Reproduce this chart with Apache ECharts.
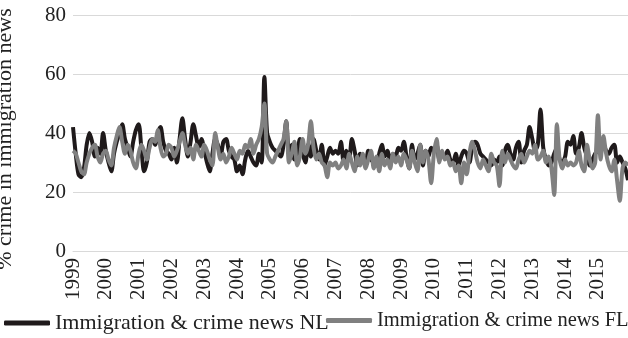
<!DOCTYPE html>
<html>
<head>
<meta charset="utf-8">
<script src="https://cdn.jsdelivr.net/npm/echarts@6/dist/echarts.min.js"></script>
<style>
  html, body { margin: 0; padding: 0; background: #fff; }
  #chart { width: 628px; height: 338px; }
</style>
</head>
<body>
<div id="chart"></div>
<script>
// Monthly share of crime coverage in immigration news, 1999-2015
const years = [1999, 2000, 2001, 2002, 2003, 2004, 2005, 2006, 2007,
               2008, 2009, 2010, 2011, 2012, 2013, 2014, 2015];

const newsNL = [
  42, 33, 26, 25, 28, 36, 40, 37, 32, 35, 33, 40,
  34, 30, 27, 33, 37, 40, 43, 38, 35, 32, 37, 41,
  43, 35, 27, 30, 37, 38, 36, 40, 42, 37, 34, 33,
  31, 35, 30, 38, 45, 38, 32, 37, 43, 39, 35, 38,
  34, 30, 27, 33, 38, 36, 32, 37, 38, 34, 32, 31,
  27, 29, 26, 31, 34, 32, 30, 29, 33, 30, 59, 40,
  37, 35, 34, 33, 32, 36, 44, 33, 36, 31, 33, 38,
  33, 30, 36, 32, 38, 34, 31, 36, 29, 32, 35, 33,
  34, 33, 37, 30, 34, 31, 38, 34, 29, 33, 31, 30,
  34, 31, 30, 29, 33, 36, 32, 34, 30, 33, 32, 35,
  34, 37, 32, 28, 36, 31, 33, 36, 29, 34, 32, 35,
  34, 36, 31, 33, 32, 34, 31, 30, 33, 29, 32, 34,
  33, 30, 35, 37, 36, 33, 32, 31, 30, 29, 31, 30,
  32, 29, 34, 36, 33, 31, 35, 37, 30, 34, 36, 42,
  38, 34, 36, 48, 35, 31, 29, 30, 33, 35, 31, 30,
  32, 37, 36, 39, 33, 35, 40, 35, 32, 29, 31, 33,
  34, 35, 36, 34, 33, 35, 36, 30, 32, 30, 28, 24
];

const newsFL = [
  34, 33, 30, 27, 26, 30, 33, 35, 36, 32, 30, 33,
  34, 31, 29, 35, 39, 42, 37, 33, 36, 34, 30, 28,
  33, 36, 34, 31, 35, 38, 37, 41, 35, 32, 33, 36,
  35, 32, 34, 37, 40, 36, 33, 35, 31, 36, 34, 32,
  36, 34, 31, 29, 40, 35, 31, 33, 30, 32, 35, 33,
  31, 34, 33, 36, 35, 38, 33, 36, 38, 42, 50, 33,
  31, 30, 32, 34, 36, 38, 44, 30, 33, 37, 29, 32,
  38, 33, 36, 44, 35, 31, 33, 30, 29, 25, 30, 29,
  30, 28, 29, 31, 28, 33, 30, 27, 32, 29, 33, 28,
  31, 34, 28, 32, 27, 33, 29, 31, 28, 33, 30, 32,
  29, 33, 31, 28, 34, 30, 27, 36, 30, 34, 31, 23,
  33, 38, 30, 34, 31, 32, 29, 30, 27, 29, 23, 30,
  26, 33, 37, 34, 30, 28, 31, 29, 27, 33, 30, 29,
  22, 34, 30, 33, 31, 29, 28, 31, 33, 30, 32, 34,
  33, 36, 31, 32, 34, 30, 32, 28, 19, 43, 31, 28,
  31, 29, 30, 29, 30, 34, 29, 27, 36, 31, 28, 30,
  46, 31, 39, 33, 29, 27, 31, 24, 17, 28, 30, 29
];

const yTicks = [0, 20, 40, 60, 80];
const seriesNames = ['Immigration & crime news NL', 'Immigration & crime news FL'];

// One category per month; the year is shown on each January
const months = [];
years.forEach(y => { for (let m = 1; m <= 12; m++) months.push(y + '-' + m); });

const FONT = 'Liberation Serif';
const chart = echarts.init(document.getElementById('chart'), null, { renderer: 'canvas' });

chart.setOption({
  animation: false,
  backgroundColor: '#ffffff',
  grid: { left: 73, right: 0, top: 15, bottom: 87, containLabel: false, outerBoundsMode: 'none' },
  legend: [
    {
      data: [seriesNames[0]],
      left: 4, top: 312, padding: 0,
      icon: 'roundRect', itemWidth: 46, itemHeight: 5,
      textStyle: { fontFamily: FONT, fontSize: 22, color: '#222' }
    },
    {
      data: [seriesNames[1]],
      left: 326, top: 310, padding: 0,
      icon: 'roundRect', itemWidth: 46, itemHeight: 5,
      textStyle: { fontFamily: FONT, fontSize: 20.5, color: '#222' }
    }
  ],
  xAxis: {
    type: 'category',
    data: months,
    boundaryGap: false,
    axisLine: { show: true, lineStyle: { color: '#d9d9d9', width: 1 } },
    axisTick: { show: false },
    axisLabel: {
      interval: 11,
      rotate: 90,
      margin: 7,
      fontFamily: FONT, fontSize: 21, color: '#222',
      formatter: v => v.split('-')[0]
    },
    splitLine: { show: false }
  },
  yAxis: {
    type: 'value',
    min: yTicks[0], max: yTicks[yTicks.length - 1], interval: 20,
    name: '% crime in immigration news',
    nameLocation: 'middle',
    nameGap: 57,
    nameRotate: 90,
    nameTextStyle: { fontFamily: FONT, fontSize: 22, color: '#222', padding: [0, 12, 0, 0] },
    axisLine: { show: false },
    axisTick: { show: false },
    axisLabel: { fontFamily: FONT, fontSize: 21, color: '#222', margin: 7 },
    splitLine: { lineStyle: { color: '#d9d9d9', width: 1 } }
  },
  series: [
    {
      name: seriesNames[0],
      type: 'line',
      data: newsNL,
      smooth: 0.3,
      showSymbol: false,
      lineStyle: { color: '#1f1a1b', width: 4 },
      itemStyle: { color: '#1f1a1b' }
    },
    {
      name: seriesNames[1],
      type: 'line',
      data: newsFL,
      smooth: 0.3,
      showSymbol: false,
      lineStyle: { color: '#808080', width: 4 },
      itemStyle: { color: '#808080' }
    }
  ]
});
</script>
</body>
</html>
